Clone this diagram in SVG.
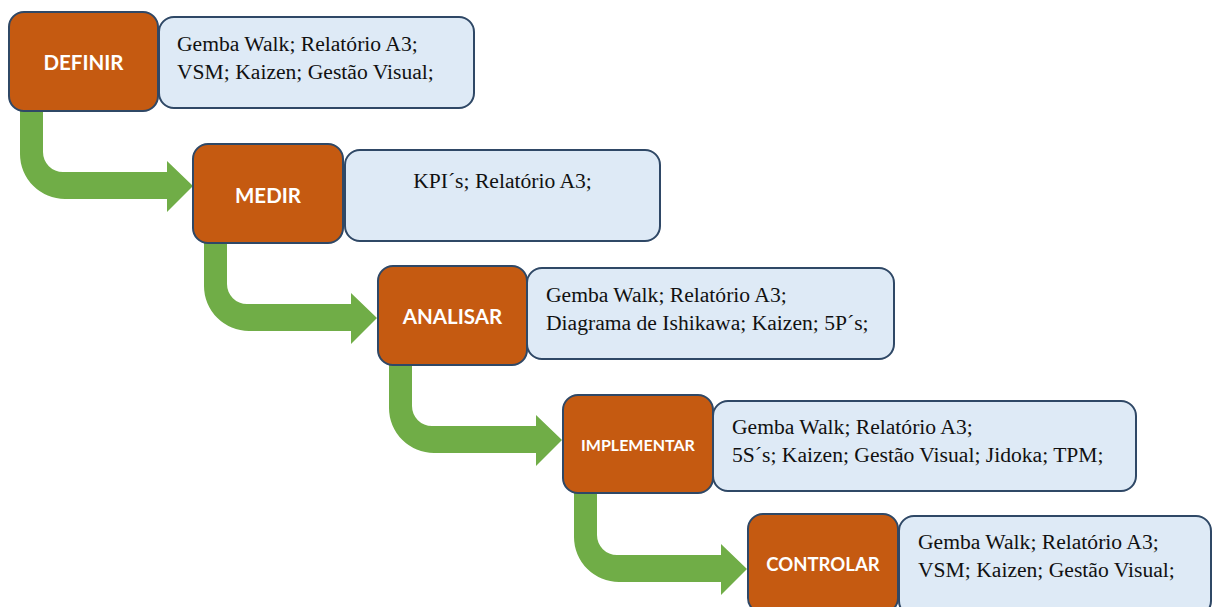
<svg xmlns="http://www.w3.org/2000/svg" width="1212" height="607" viewBox="0 0 1212 607">
  <style>
    .step { fill: #c55a11; stroke: #2f4866; stroke-width: 2; }
    .info { fill: #deeaf6; stroke: #2f4866; stroke-width: 2; }
    .label { font-family: Lato, "Open Sans", "Liberation Sans", sans-serif; font-weight: bold; fill: #ffffff; text-anchor: middle; }
    .tools { font-family: "Liberation Serif", "Times New Roman", serif; font-size: 21.6px; fill: #111111; }
    .flow { fill: #70ad47; }
  </style>
  <defs>
    <!-- bent arrow: down from a step, then right into the next step -->
    <path id="bend" d="M11,95 H34 V140 A20,20 0 0 0 54,160 H158 V149 L184,174 L158,200 V187 H56 A45,45 0 0 1 11,142 Z"/>
  </defs>
  <rect width="1212" height="607" fill="#ffffff"/>

  <g id="connectors" class="flow">
    <use href="#bend" transform="translate(9,12)"/>
    <use href="#bend" transform="translate(193,144)"/>
    <use href="#bend" transform="translate(378,266)"/>
    <use href="#bend" transform="translate(563,395)"/>
  </g>

  <g id="definir">
    <rect class="step" x="9" y="12" width="149" height="99" rx="15"/>
    <text class="label" x="83.5" y="70" font-size="20.5">DEFINIR</text>
  </g>
  <g id="definir-tools">
    <rect class="info" x="159" y="17" width="315" height="91" rx="15"/>
    <text class="tools" x="177" y="51">Gemba Walk; Relatório A3;</text>
    <text class="tools" x="177" y="79">VSM; Kaizen; Gestão Visual;</text>
  </g>

  <g id="medir">
    <rect class="step" x="193" y="144" width="150" height="99" rx="15"/>
    <text class="label" x="268" y="203" font-size="20.5">MEDIR</text>
  </g>
  <g id="medir-tools">
    <rect class="info" x="345" y="150" width="315" height="91" rx="15"/>
    <text class="tools" x="502.5" y="188" text-anchor="middle">KPI´s; Relatório A3;</text>
  </g>

  <g id="analisar">
    <rect class="step" x="378" y="266" width="149" height="99" rx="15"/>
    <text class="label" x="452.5" y="324" font-size="20.5">ANALISAR</text>
  </g>
  <g id="analisar-tools">
    <rect class="info" x="527" y="268" width="367" height="91" rx="15"/>
    <text class="tools" x="546" y="302">Gemba Walk; Relatório A3;</text>
    <text class="tools" x="546" y="330">Diagrama de Ishikawa; Kaizen; 5P´s;</text>
  </g>

  <g id="implementar">
    <rect class="step" x="563" y="395" width="150" height="98" rx="15"/>
    <text class="label" x="638" y="451" font-size="16">IMPLEMENTAR</text>
  </g>
  <g id="implementar-tools">
    <rect class="info" x="713" y="401" width="423" height="90" rx="15"/>
    <text class="tools" x="732" y="434">Gemba Walk; Relatório A3;</text>
    <text class="tools" x="732" y="462">5S´s; Kaizen; Gestão Visual; Jidoka; TPM;</text>
  </g>

  <g id="controlar">
    <rect class="step" x="748" y="514" width="150" height="99" rx="15"/>
    <text class="label" x="823" y="571" font-size="18.5">CONTROLAR</text>
  </g>
  <g id="controlar-tools">
    <rect class="info" x="899" y="516" width="312" height="100" rx="15"/>
    <text class="tools" x="918" y="549">Gemba Walk; Relatório A3;</text>
    <text class="tools" x="918" y="577">VSM; Kaizen; Gestão Visual;</text>
  </g>
</svg>
